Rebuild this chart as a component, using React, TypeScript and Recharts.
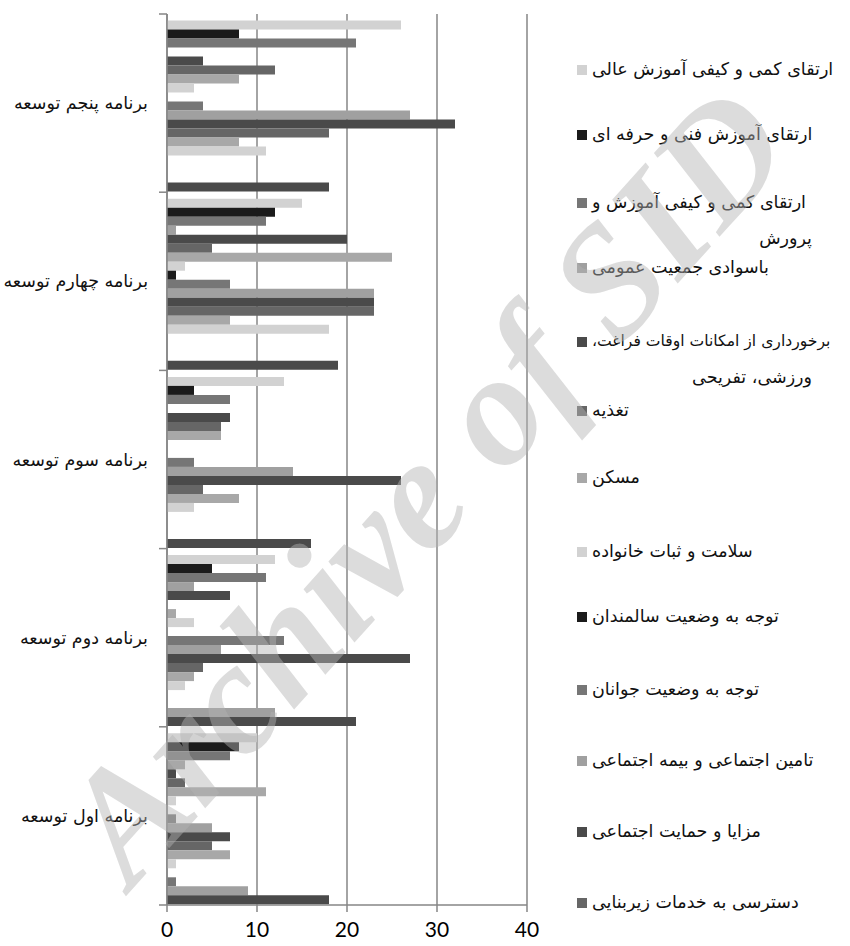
import React from 'react';
import { BarChart, Bar, XAxis, YAxis, CartesianGrid, Legend } from 'recharts';

// categories listed top to bottom as they appear on the chart
const categories = [
  'برنامه پنجم توسعه',
  'برنامه چهارم توسعه',
  'برنامه سوم توسعه',
  'برنامه دوم توسعه',
  'برنامه اول توسعه',
];

// the legend in the source is cut off after 13 entries
const seriesNames = [
  'ارتقای کمی و کیفی آموزش عالی',
  'ارتقای آموزش فنی و حرفه ای',
  'ارتقای کمی و کیفی آموزش و پرورش',
  'باسوادی جمعیت عمومی',
  'برخورداری از امکانات اوقات فراغت، ورزشی، تفریحی',
  'تغذیه',
  'مسکن',
  'سلامت و ثبات خانواده',
  'توجه به وضعیت سالمندان',
  'توجه به وضعیت جوانان',
  'تامین اجتماعی و بیمه اجتماعی',
  'مزایا و حمایت اجتماعی',
  'دسترسی به خدمات زیربنایی',
  'سری ۱۴',
  'سری ۱۵',
  'سری ۱۶',
  'سری ۱۷',
  'سری ۱۸',
  'سری ۱۹',
];

// one row per series, values in the order of `categories`
const seriesValues = [
  [26, 15, 13, 12, 10],
  [8, 12, 3, 5, 8],
  [21, 11, 7, 11, 7],
  [0, 1, 0, 3, 2],
  [4, 20, 7, 7, 1],
  [12, 5, 6, 0, 2],
  [8, 25, 6, 1, 11],
  [3, 2, 0, 3, 1],
  [0, 1, 0, 0, 0],
  [4, 7, 3, 13, 1],
  [27, 23, 14, 6, 5],
  [32, 23, 26, 27, 7],
  [18, 23, 4, 4, 5],
  [8, 7, 8, 3, 7],
  [11, 18, 3, 2, 1],
  [0, 0, 0, 0, 0],
  [0, 0, 0, 0, 1],
  [0, 0, 0, 12, 9],
  [18, 19, 16, 21, 18],
];

const palette = ['#d2d2d2', '#1b1b1b', '#767676', '#a0a0a0', '#4a4a4a', '#666666', '#a8a8a8'];
const xTicks = [0, 10, 20, 30, 40];

const data = categories.map((name, i) => {
  const row: Record<string, string | number> = { name };
  seriesValues.forEach((vals, s) => {
    row[`s${s + 1}`] = vals[i];
  });
  return row;
});

const AXIS = '#868686';
const PERSIAN_FONT = '"DejaVu Sans", sans-serif';

// legend layout (excel drops the entries that don't fit)
const legendShown = 13;
const legendCenters = [70, 135, 203, 268, 342, 411, 478, 552, 617, 690, 761, 832, 903];
const legendBreakAfter: Record<number, number> = { 2: 6, 4: 5 };
const legendFirstLineSize: Record<number, number> = { 4: 15.6 };

function CategoryTick(props: any) {
  const { x, y, payload, index, visibleTicksCount } = props;
  const half = payload?.offset ?? 0;
  const isLast = index === visibleTicksCount - 1;
  return (
    <g>
      <line x1={x} x2={x + 8} y1={y - half} y2={y - half} stroke={AXIS} strokeWidth={1.5} />
      {isLast && <line x1={x} x2={x + 8} y1={y + half} y2={y + half} stroke={AXIS} strokeWidth={1.5} />}
      <text x={x - 11} y={y} textAnchor="end" dominantBaseline="central" fontSize={17.5} fontFamily={PERSIAN_FONT} fill="#111">
        {payload.value}
      </text>
    </g>
  );
}

function LegendBox() {
  const textStyle: React.CSSProperties = {
    position: 'absolute',
    direction: 'rtl',
    whiteSpace: 'nowrap',
    fontFamily: PERSIAN_FONT,
    fontSize: 17.5,
    lineHeight: '24px',
    color: '#111',
  };
  return (
    <div style={{ position: 'relative', width: 850, height: 946 }}>
      {seriesNames.slice(0, legendShown).map((name, i) => {
        const cy = legendCenters[i];
        const words = name.split(' ');
        const cut = legendBreakAfter[i];
        const line1 = cut ? words.slice(0, cut).join(' ') : name;
        const line2 = cut ? words.slice(cut).join(' ') : null;
        const size1 = legendFirstLineSize[i] ?? 17.5;
        return (
          <React.Fragment key={name}>
            <div style={{ position: 'absolute', left: 577, top: cy - 5, width: 10, height: 10, background: palette[i % palette.length] }} />
            <div style={{ ...textStyle, fontSize: size1, left: 592, top: cy - 13 }}>{line1}</div>
            {line2 && <div style={{ ...textStyle, right: 38, top: cy + 23 }}>{line2}</div>}
          </React.Fragment>
        );
      })}
    </div>
  );
}

export default function App() {
  return (
    <div style={{ position: 'absolute', left: 0, top: 0, width: 850, height: 946, background: '#fff', overflow: 'hidden' }}>
      <BarChart
        width={850}
        height={946}
        data={data}
        layout="vertical"
        margin={{ top: 14, right: 323, bottom: 0, left: 0 }}
        barCategoryGap={6.5}
        barGap={0}
      >
        <CartesianGrid horizontal={false} stroke={AXIS} strokeWidth={1.5} />
        <XAxis
          type="number"
          domain={[0, 40]}
          ticks={xTicks}
          interval={0}
          height={41}
          axisLine={{ stroke: AXIS, strokeWidth: 1.5 }}
          tickLine={{ stroke: AXIS, strokeWidth: 1.5 }}
          tickSize={7}
          tickMargin={10}
          tick={{ fill: '#000', fontSize: 21, fontFamily: 'Lato' }}
        />
        <YAxis
          type="category"
          dataKey="name"
          width={167}
          interval={0}
          axisLine={{ stroke: AXIS, strokeWidth: 1.5 }}
          tickLine={false}
          tickSize={8}
          tickMargin={0}
          tick={<CategoryTick />}
        />
        {seriesNames.map((name, s) => (
          <Bar
            key={name}
            dataKey={`s${s + 1}`}
            name={name}
            fill={palette[s % palette.length]}
            isAnimationActive={false}
          />
        ))}
        <Legend
          layout="vertical"
          align="center"
          verticalAlign="middle"
          content={<LegendBox />}
          wrapperStyle={{ left: 0, top: 0, width: 850, height: 946, pointerEvents: 'none' }}
        />
      </BarChart>
      {/* watermark from the scanned source */}
      <svg width={850} height={946} style={{ position: 'absolute', left: 0, top: 0, pointerEvents: 'none' }}>
        <text
          x={420}
          y={540}
          textAnchor="middle"
          transform="rotate(-48 420 480)"
          fontFamily='"Liberation Serif", serif'
          fontStyle="italic"
          fontWeight="bold"
          fontSize={160}
          fill="rgb(179,179,179)"
          fillOpacity={0.46}
        >
          Archive of SID
        </text>
      </svg>
    </div>
  );
}
